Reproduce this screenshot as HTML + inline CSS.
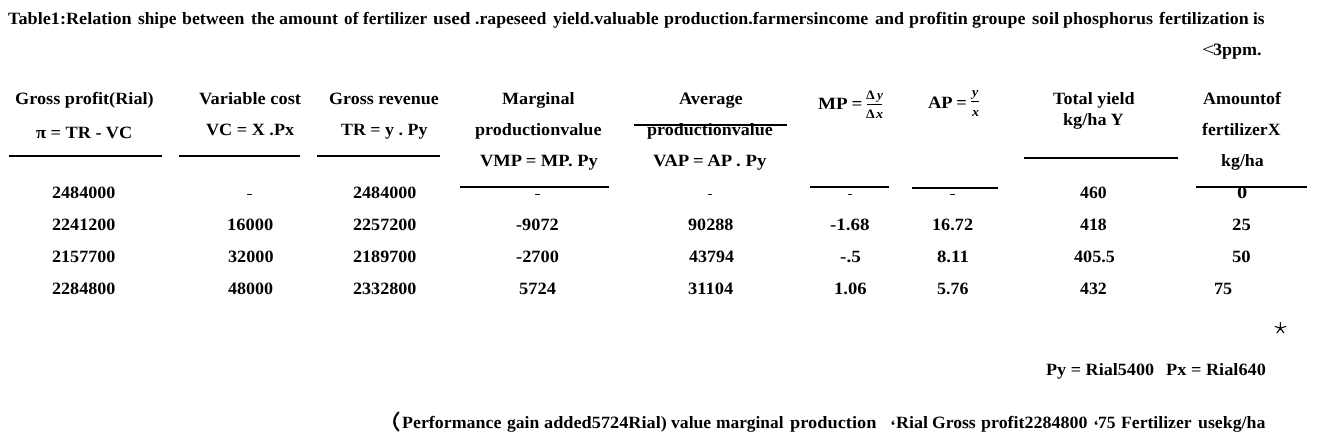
<!DOCTYPE html>
<html><head><meta charset="utf-8">
<style>
html,body{margin:0;padding:0;background:#fff;}
body{width:1318px;height:443px;position:relative;overflow:hidden;font-family:"Liberation Serif",serif;font-weight:bold;font-size:17.33px;color:#000;text-rendering:geometricPrecision;}
.t{position:absolute;white-space:nowrap;line-height:22px;height:22px;letter-spacing:0.0px;transform-origin:0 0;}
.l{position:absolute;height:2px;background:#000;}
</style></head><body><div id="w" style="position:absolute;left:0;top:0;width:1318px;height:443px;will-change:transform;">
<div class="t" id="e0" style="left:8.32px;top:8.30px;transform:scale(1.0495,1);">Table1:Relation</div>
<div class="t" id="e1" style="left:137.59px;top:8.30px;transform:scale(0.9968,1);">shipe</div>
<div class="t" id="e2" style="left:181.70px;top:8.30px;transform:scale(1.0273,1);">between</div>
<div class="t" id="e3" style="left:250.86px;top:8.30px;transform:scale(1.0301,1);">the</div>
<div class="t" id="e4" style="left:279.14px;top:8.30px;transform:scale(1.0371,1);">amount</div>
<div class="t" id="e5" style="left:344.36px;top:8.30px;transform:scale(0.9955,1);">of</div>
<div class="t" id="e6" style="left:363.32px;top:8.30px;transform:scale(0.9946,1);">fertilizer</div>
<div class="t" id="e7" style="left:432.80px;top:8.30px;transform:scale(1.1095,1);">used</div>
<div class="t" id="e8" style="left:475.28px;top:8.30px;transform:scale(1.0223,1);">.rapeseed</div>
<div class="t" id="e9" style="left:552.86px;top:8.30px;transform:scale(1.0301,1);">yield.valuable</div>
<div class="t" id="e10" style="left:663.79px;top:8.30px;transform:scale(1.0345,1);">production.farmersincome</div>
<div class="t" id="e11" style="left:874.74px;top:8.30px;transform:scale(1.0388,1);">and</div>
<div class="t" id="e12" style="left:908.99px;top:8.30px;transform:scale(1.0398,1);">profitin</div>
<div class="t" id="e13" style="left:972.30px;top:8.30px;transform:scale(1.0341,1);">groupe</div>
<div class="t" id="e14" style="left:1031.72px;top:8.30px;transform:scale(1.0899,1);">soil</div>
<div class="t" id="e15" style="left:1062.68px;top:8.30px;transform:scale(1.0370,1);">phosphorus</div>
<div class="t" id="e16" style="left:1158.80px;top:8.30px;transform:scale(1.0351,1);">fertilization</div>
<div class="t" id="e17" style="left:1253.36px;top:8.30px;transform:scale(0.9949,1);">is</div>
<div class="t" id="e18" style="left:1201.58px;top:39.00px;transform:scale(1.2460,1);font-weight:normal;">&lt;</div>
<div class="t" id="e19" style="left:1212.59px;top:39.00px;transform:scale(1.0413,1);">3ppm.</div>
<div class="t" id="e20" style="left:14.65px;top:88.30px;transform:scale(1.0529,1);">Gross profit(Rial)</div>
<div class="t" id="e21" style="left:36.40px;top:122.40px;transform:scale(1.0551,1);">π = TR - VC</div>
<div class="t" id="e22" style="left:198.63px;top:88.30px;transform:scale(1.0609,1);">Variable cost</div>
<div class="t" id="e23" style="left:205.93px;top:119.40px;transform:scale(1.0485,1);">VC = X .Px</div>
<div class="t" id="e24" style="left:329.19px;top:88.30px;transform:scale(1.0385,1);">Gross revenue</div>
<div class="t" id="e25" style="left:341.42px;top:119.40px;transform:scale(1.0342,1);">TR = y . Py</div>
<div class="t" id="e26" style="left:502.23px;top:88.30px;transform:scale(1.0459,1);">Marginal</div>
<div class="t" id="e27" style="left:475.09px;top:119.40px;transform:scale(1.0451,1);">productionvalue</div>
<div class="t" id="e28" style="left:479.52px;top:150.10px;transform:scale(1.0669,1);">VMP = MP. Py</div>
<div class="t" id="e29" style="left:678.66px;top:88.30px;transform:scale(1.0565,1);">Average</div>
<div class="t" id="e30" style="left:646.68px;top:119.40px;transform:scale(1.0393,1);">productionvalue</div>
<div class="t" id="e31" style="left:652.90px;top:150.10px;transform:scale(1.0856,1);">VAP = AP . Py</div>
<div class="t" id="e32" style="left:818.32px;top:93.20px;transform:scale(1.1026,1);">MP =</div>
<div class="t" id="e33" style="left:927.73px;top:91.60px;transform:scale(1.0671,1);">AP =</div>
<div class="t" id="e34" style="left:1053.01px;top:88.30px;transform:scale(1.0482,1);">Total yield</div>
<div class="t" id="e35" style="left:1062.68px;top:109.00px;transform:scale(1.0506,1);">kg/ha Y</div>
<div class="t" id="e36" style="left:1203.46px;top:88.30px;transform:scale(1.0403,1);">Amountof</div>
<div class="t" id="e37" style="left:1202.42px;top:119.40px;transform:scale(1.0193,1);">fertilizerX</div>
<div class="t" id="e38" style="left:1221.39px;top:150.10px;transform:scale(1.0317,1);">kg/ha</div>
<div class="t" id="e39" style="left:52.37px;top:182.20px;transform:scale(1.0455,1);">2484000</div>
<div class="l t0" id="e40" style="left:247.40px;top:193.75px;width:4.80px;height:1.5px;border-radius:0.7px;"></div>
<div class="t" id="e41" style="left:352.96px;top:182.20px;transform:scale(1.0455,1);">2484000</div>
<div class="l t0" id="e42" style="left:534.80px;top:193.75px;width:4.80px;height:1.5px;border-radius:0.7px;"></div>
<div class="l t0" id="e43" style="left:707.70px;top:193.75px;width:4.40px;height:1.5px;border-radius:0.7px;"></div>
<div class="l t0" id="e44" style="left:847.60px;top:193.75px;width:4.90px;height:1.5px;border-radius:0.7px;"></div>
<div class="l t0" id="e45" style="left:950.40px;top:193.75px;width:5.10px;height:1.5px;border-radius:0.7px;"></div>
<div class="t" id="e46" style="left:1079.82px;top:182.20px;transform:scale(1.0259,1);">460</div>
<div class="t" id="e47" style="left:1237.00px;top:182.20px;transform:scale(1.1824,1);">0</div>
<div class="t" id="e48" style="left:52.37px;top:214.20px;transform:scale(1.0455,1);">2241200</div>
<div class="t" id="e49" style="left:226.81px;top:214.20px;transform:scale(1.0694,1);">16000</div>
<div class="t" id="e50" style="left:352.96px;top:214.20px;transform:scale(1.0455,1);">2257200</div>
<div class="t" id="e51" style="left:515.91px;top:214.20px;transform:scale(1.0567,1);">-9072</div>
<div class="t" id="e52" style="left:688.06px;top:214.20px;transform:scale(1.0475,1);">90288</div>
<div class="t" id="e53" style="left:830.38px;top:214.20px;transform:scale(1.0967,1);">-1.68</div>
<div class="t" id="e54" style="left:931.68px;top:214.20px;transform:scale(1.0520,1);">16.72</div>
<div class="t" id="e55" style="left:1079.80px;top:214.20px;transform:scale(1.0263,1);">418</div>
<div class="t" id="e56" style="left:1232.03px;top:214.20px;transform:scale(1.0832,1);">25</div>
<div class="t" id="e57" style="left:52.37px;top:246.00px;transform:scale(1.0455,1);">2157700</div>
<div class="t" id="e58" style="left:227.66px;top:246.00px;transform:scale(1.0522,1);">32000</div>
<div class="t" id="e59" style="left:352.96px;top:246.00px;transform:scale(1.0455,1);">2189700</div>
<div class="t" id="e60" style="left:515.91px;top:246.00px;transform:scale(1.0615,1);">-2700</div>
<div class="t" id="e61" style="left:688.53px;top:246.00px;transform:scale(1.0356,1);">43794</div>
<div class="t" id="e62" style="left:840.37px;top:246.00px;transform:scale(1.1079,1);">-.5</div>
<div class="t" id="e63" style="left:936.73px;top:246.00px;transform:scale(1.0808,1);">8.11</div>
<div class="t" id="e64" style="left:1073.52px;top:246.00px;transform:scale(1.0485,1);">405.5</div>
<div class="t" id="e65" style="left:1232.07px;top:246.00px;transform:scale(1.0813,1);">50</div>
<div class="t" id="e66" style="left:52.37px;top:277.70px;transform:scale(1.0455,1);">2284800</div>
<div class="t" id="e67" style="left:228.42px;top:277.70px;transform:scale(1.0419,1);">48000</div>
<div class="t" id="e68" style="left:352.96px;top:277.70px;transform:scale(1.0455,1);">2332800</div>
<div class="t" id="e69" style="left:519.49px;top:277.70px;transform:scale(1.0661,1);">5724</div>
<div class="t" id="e70" style="left:687.76px;top:277.70px;transform:scale(1.0663,1);">31104</div>
<div class="t" id="e71" style="left:834.24px;top:277.70px;transform:scale(1.0762,1);">1.06</div>
<div class="t" id="e72" style="left:936.61px;top:277.70px;transform:scale(1.0352,1);">5.76</div>
<div class="t" id="e73" style="left:1079.81px;top:277.70px;transform:scale(1.0288,1);">432</div>
<div class="t" id="e74" style="left:1213.85px;top:277.70px;transform:scale(1.0527,1);">75</div>
<div class="t" id="e75" style="left:1046.01px;top:358.70px;transform:scale(1.0467,1);">Py = Rial5400</div>
<div class="t" id="e76" style="left:1166.21px;top:358.70px;transform:scale(1.0554,1);">Px = Rial640</div>
<div class="t" id="e77" style="left:401.71px;top:412.10px;transform:scale(1.0329,1);">Performance</div>
<div class="t" id="e78" style="left:507.20px;top:412.10px;transform:scale(1.0147,1);">gain</div>
<div class="t" id="e79" style="left:543.52px;top:412.10px;transform:scale(1.0546,1);">added5724Rial)</div>
<div class="t" id="e80" style="left:671.10px;top:412.10px;transform:scale(1.0183,1);">value</div>
<div class="t" id="e81" style="left:716.20px;top:412.10px;transform:scale(1.0016,1);">marginal</div>
<div class="t" id="e82" style="left:789.88px;top:412.10px;transform:scale(1.0595,1);">production</div>
<div class="t" id="e83" style="left:895.82px;top:412.10px;transform:scale(1.0421,1);">Rial</div>
<div class="t" id="e84" style="left:931.69px;top:412.10px;transform:scale(1.0168,1);">Gross</div>
<div class="t" id="e85" style="left:980.69px;top:412.10px;transform:scale(1.0367,1);">profit2284800</div>
<div class="t" id="e86" style="left:1098.29px;top:412.10px;transform:scale(1.0171,1);">75</div>
<div class="t" id="e87" style="left:1121.02px;top:412.10px;transform:scale(1.0193,1);">Fertilizer</div>
<div class="t" id="e88" style="left:1197.55px;top:412.10px;transform:scale(1.0294,1);">usekg/ha</div>
<div class="t" id="e89" style="left:866.49px;top:87.60px;transform:scale(1.0753,1);font-size:13px;font-style:normal;line-height:13px;height:13px;">Δ</div>
<div class="t" id="e90" style="left:877.01px;top:87.60px;transform:scale(1.0147,1);font-size:13px;font-style:italic;line-height:13px;height:13px;">y</div>
<div class="t" id="e91" style="left:866.49px;top:106.80px;transform:scale(1.0753,1);font-size:13px;font-style:normal;line-height:13px;height:13px;">Δ</div>
<div class="t" id="e92" style="left:875.63px;top:106.80px;transform:scale(1.0883,1);font-size:13px;font-style:italic;line-height:13px;height:13px;">x</div>
<div class="t" id="e93" style="left:972.28px;top:84.90px;transform:scale(1.0721,1);font-size:13px;font-style:italic;line-height:13px;height:13px;">y</div>
<div class="t" id="e94" style="left:971.64px;top:104.80px;transform:scale(1.0883,1);font-size:13px;font-style:italic;line-height:13px;height:13px;">x</div>
<div class="l" style="left:9px;top:155px;width:152.5px;"></div>
<div class="l" style="left:179.2px;top:155px;width:120.6px;"></div>
<div class="l" style="left:317px;top:155px;width:123.3px;"></div>
<div class="l" style="left:460.4px;top:186px;width:149px;"></div>
<div class="l" style="left:633.8px;top:123.6px;width:153.6px;"></div>
<div class="l" style="left:809.6px;top:185.5px;width:79.4px;"></div>
<div class="l" style="left:912px;top:187px;width:85.5px;"></div>
<div class="l" style="left:1024.3px;top:157.4px;width:154.2px;"></div>
<div class="l" style="left:1196px;top:185.5px;width:110.8px;"></div>
<div class="l" style="left:866.9px;top:103.5px;width:15.0px;height:1.4px;"></div>
<div class="l" style="left:971px;top:100.5px;width:7.8px;height:1.4px;"></div>
<svg style="position:absolute;left:0;top:0" width="1318" height="443"><path d="M1280.40 328.20L1280.40 322.70M1280.40 328.20L1285.63 326.50M1280.40 328.20L1283.63 332.65M1280.40 328.20L1277.17 332.65M1280.40 328.20L1275.17 326.50" stroke="#000" stroke-width="1.25" stroke-linecap="round" fill="none"/><path d="M893.9 420.6c-1.6 .6-2.4 1.7-2.3 2.8 .1 1 1 1.6 1.9 1.4 .9-.2 1.3-1.1 .9-1.8-.3-.5-.9-.7-1.3-.5 .1-.7 .5-1.3 1.1-1.6z" fill="#000"/><path d="M1097.0 420.6c-1.6 .6-2.4 1.7-2.3 2.8 .1 1 1 1.6 1.9 1.4 .9-.2 1.3-1.1 .9-1.8-.3-.5-.9-.7-1.3-.5 .1-.7 .5-1.3 1.1-1.6z" fill="#000"/><path d="M398.3 412.6C392.8 418.6 392.8 424.4 398.3 430.4" stroke="#000" stroke-width="2.1" stroke-linecap="round" fill="none"/></svg>
</div></body></html>
